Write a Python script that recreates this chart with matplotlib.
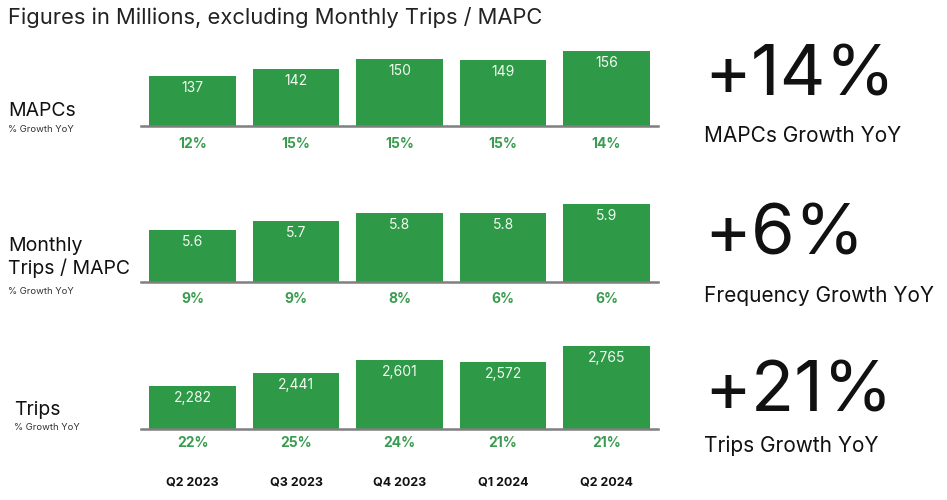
import matplotlib
matplotlib.use("Agg")
import matplotlib.pyplot as plt
import matplotlib.transforms as mtransforms

plt.rcParams['font.family'] = ['Inter', 'DejaVu Sans']

quarters = ['Q2 2023', 'Q3 2023', 'Q4 2023', 'Q1 2024', 'Q2 2024']

mapcs = [137, 142, 150, 149, 156]
mapcs_labels = ['137', '142', '150', '149', '156']
mapcs_growth = ['12%', '15%', '15%', '15%', '14%']

freq = [5.6, 5.7, 5.8, 5.8, 5.9]
freq_labels = ['5.6', '5.7', '5.8', '5.8', '5.9']
freq_growth = ['9%', '9%', '8%', '6%', '6%']

trips = [2282, 2441, 2601, 2572, 2765]
trips_labels = ['2,282', '2,441', '2,601', '2,572', '2,765']
trips_growth = ['22%', '25%', '24%', '21%', '21%']

headline = ['+14%', '+6%', '+21%']
headline_sub = ['MAPCs Growth YoY', 'Frequency Growth YoY', 'Trips Growth YoY']

GREEN = '#2e9946'
PCT_GREEN = '#3a9c50'
W, H = 947, 500

fig = plt.figure(figsize=(W / 100, H / 100), dpi=100)
fig.patch.set_facecolor('white')


def px_axes(left, top, right, bottom):
    # pixel box measured from the top-left corner
    return fig.add_axes([left / W, 1 - bottom / H, (right - left) / W, (bottom - top) / H])


def panel(box, values, labels, growth, ylim, pct_off):
    ax = px_axes(*box)
    x = range(len(values))
    ax.bar(x, values, width=0.84, color=GREEN, zorder=2)
    ax.set_xlim(-0.5, 4.5)
    ax.set_ylim(*ylim)
    for s in ['top', 'right', 'left']:
        ax.spines[s].set_visible(False)
    ax.spines['bottom'].set_color('#7f7f7f')
    ax.spines['bottom'].set_linewidth(1.8)
    ax.set_xticks([])
    ax.set_yticks([])
    ax.patch.set_alpha(0)
    for xi, v, lab in zip(x, values, labels):
        ax.annotate(lab, (xi, v), xytext=(0, -12), textcoords='offset pixels',
                    ha='center', va='center', color='#f2faf2', fontsize=10)
    trans = mtransforms.blended_transform_factory(ax.transData, ax.transAxes)
    for xi, g in zip(x, growth):
        ax.annotate(g, (xi, 0), xycoords=trans, xytext=(0, -pct_off), textcoords='offset pixels',
                    ha='center', va='center', color=PCT_GREEN, fontsize=10, fontweight='bold')
    return ax


ax1 = panel((140.75, 40, 658.25, 126), mapcs, mapcs_labels, mapcs_growth, (99, 99 + 86 / 1.316), 18)
ax2 = panel((140.75, 196, 658.25, 282), freq, freq_labels, freq_growth, (5.0, 5.0 + 86 / 86.7), 17)
ax3 = panel((140.75, 329, 658.25, 429), trips, trips_labels, trips_growth, (1763, 1763 + 100 / 0.0828), 14)

trans3 = mtransforms.blended_transform_factory(ax3.transData, ax3.transAxes)
for xi, q in enumerate(quarters):
    ax3.annotate(q, (xi, 0), xycoords=trans3, xytext=(0, -53), textcoords='offset pixels',
                 ha='center', va='center', color='#111111', fontsize=9, fontweight='bold')

# title
fig.text(8 / W, 1 - 18 / H, 'Figures in Millions, excluding Monthly Trips / MAPC',
         ha='left', va='center', fontsize=15.8, color='#222222')

# left row labels
fig.text(8 / W, 1 - 111 / H, 'MAPCs', ha='left', va='center', fontsize=14, color='#111111')
fig.text(8 / W, 1 - 129 / H, '% Growth YoY', ha='left', va='center', fontsize=6.8, color='#333333')
fig.text(8 / W, 1 - 246 / H, 'Monthly', ha='left', va='center', fontsize=14, color='#111111')
fig.text(8 / W, 1 - 268 / H, 'Trips / MAPC', ha='left', va='center', fontsize=14, color='#111111')
fig.text(8 / W, 1 - 291 / H, '% Growth YoY', ha='left', va='center', fontsize=6.8, color='#333333')
fig.text(14 / W, 1 - 410 / H, 'Trips', ha='left', va='center', fontsize=14, color='#111111')
fig.text(14 / W, 1 - 428 / H, '% Growth YoY', ha='left', va='center', fontsize=6.8, color='#333333')

# right headline figures
big_y = [77, 236, 393]
sub_y = [136, 296, 446]
for h, s, by, sy in zip(headline, headline_sub, big_y, sub_y):
    fig.text(704 / W, 1 - by / H, h, ha='left', va='center', fontsize=51, color='#111111')
    fig.text(704 / W, 1 - sy / H, s, ha='left', va='center', fontsize=15, color='#111111')

fig.savefig('out.png', dpi=100, facecolor='white')
